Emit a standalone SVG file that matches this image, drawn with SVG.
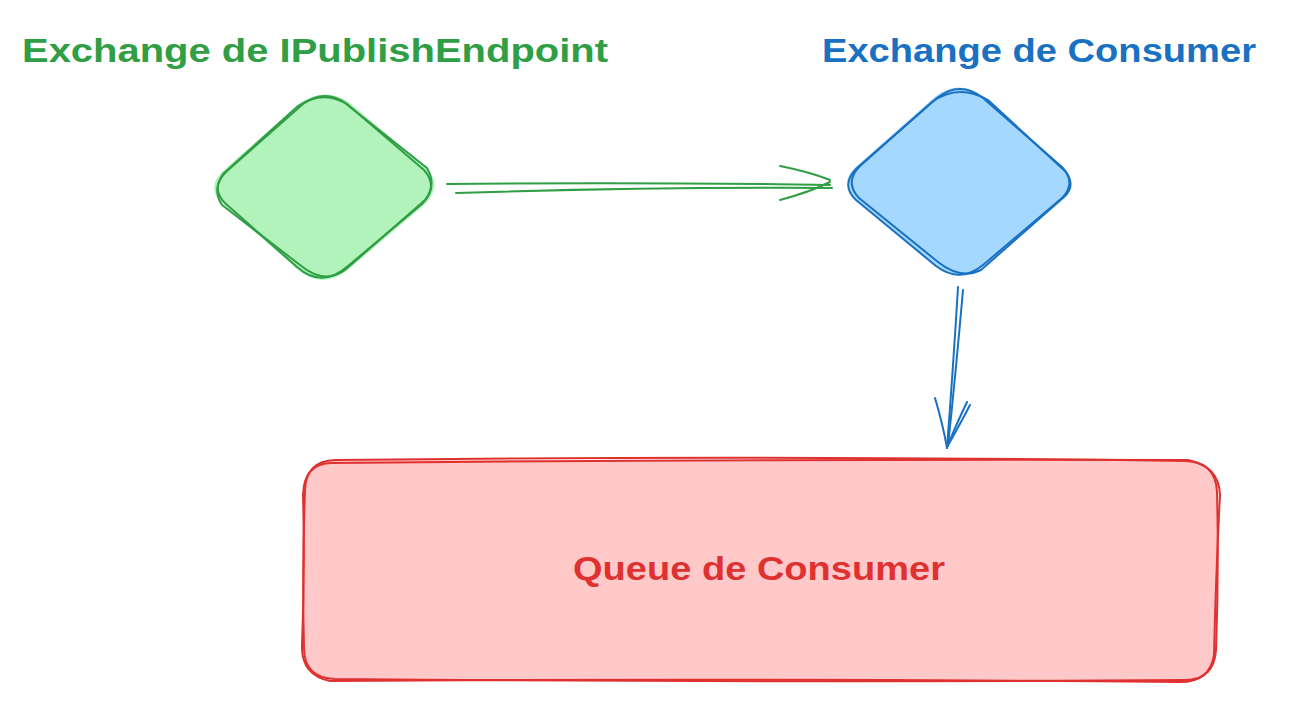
<svg xmlns="http://www.w3.org/2000/svg" width="1302" height="718" viewBox="0 0 1302 718">
<style>
.t{font-family:"Liberation Sans","DejaVu Sans",sans-serif;font-weight:bold;font-size:33px}
.g{fill:#2f9e44}.b{fill:#1971c2}.r{fill:#e03131}
.sg{fill:none;stroke:#2f9e44;stroke-width:2;stroke-linecap:round;stroke-linejoin:round}
.sb{fill:none;stroke:#1971c2;stroke-width:2;stroke-linecap:round;stroke-linejoin:round}
.sr{fill:none;stroke:#e03131;stroke-width:2;stroke-linecap:round;stroke-linejoin:round}
</style>
<rect width="1302" height="718" fill="#ffffff"/>
<g id="label-publish"><text class="t g" x="22" y="62" textLength="586" lengthAdjust="spacingAndGlyphs">Exchange de IPublishEndpoint</text></g>
<g id="label-consumer"><text class="t b" x="822" y="62" textLength="434" lengthAdjust="spacingAndGlyphs">Exchange de Consumer</text></g>
<g id="node-publish">
<path d="M300 103 Q325 86 350 103 L426 168 Q444 186 424 205 L350 268 Q322 292 296 268 L224 205 Q204 188 224 170 Z" fill="#b2f2bb"/>
<path class="sg" d="M303 104 Q325 88 347 104 L424 170 Q439 187 422 204 L348 266 Q322 289 297 267 L226 204 Q209 188 227 171 Z"/>
<path class="sg" d="M298 106 Q322 90 345 103 L427 168 Q437 185 425 200 L345 270 Q324 285 300 265 L222 205 Q212 190 223 174 Z"/>
</g>
<g id="node-consumer">
<path d="M936 96 Q960 78 985 98 L1060 165 Q1080 183 1060 201 L985 265 Q960 286 934 265 L858 201 Q836 183 858 165 Z" fill="#a5d8ff"/>
<path class="sb" d="M937 98 Q960 80 983 98 L1062 167 Q1077 183 1062 198 L983 265 Q960 284 936 266 L856 200 Q840 185 857 168 Z"/>
<path class="sb" d="M932 102 Q958 83 988 100 L1066 172 Q1076 186 1064 197 L981 270 Q961 280 938 262 L859 198 Q844 182 860 166 Z"/>
</g>
<g id="node-queue">
<rect x="303" y="460" width="914" height="220" rx="32" fill="#ffc9c9"/>
<path class="sr" d="M335 460 Q760 455 1185 461 Q1216 462 1217 492 Q1219 570 1216 650 Q1214 680 1185 680 Q760 683 335 679 Q304 678 304 648 Q302 570 305 490 Q306 461 335 460 Z"/>
<path class="sr" d="M332 463 Q760 459 1188 460 Q1219 466 1220 495 Q1216 570 1214 655 Q1210 682 1180 682 Q760 678 330 681 Q301 675 302 645 Q305 570 303 495 Q304 463 332 463 Z"/>
<text class="t r" x="573" y="580" textLength="372" lengthAdjust="spacingAndGlyphs">Queue de Consumer</text>
</g>
<g id="connectors">
<path class="sg" d="M447 184 Q640 182 830 185"/>
<path class="sg" d="M456 193 Q650 187 832 188"/>
<path class="sg" d="M780 166 Q810 172 830 180"/>
<path class="sg" d="M780 200 Q810 192 830 182"/>
<path class="sb" d="M958 287 Q953 370 947 448"/>
<path class="sb" d="M963 290 Q956 370 948 446"/>
<path class="sb" d="M935 398 Q943 425 947 448"/>
<path class="sb" d="M970 405 Q958 428 947 447"/>
<path class="sb" d="M967 402 Q956 425 948 445"/>
</g>
</svg>
